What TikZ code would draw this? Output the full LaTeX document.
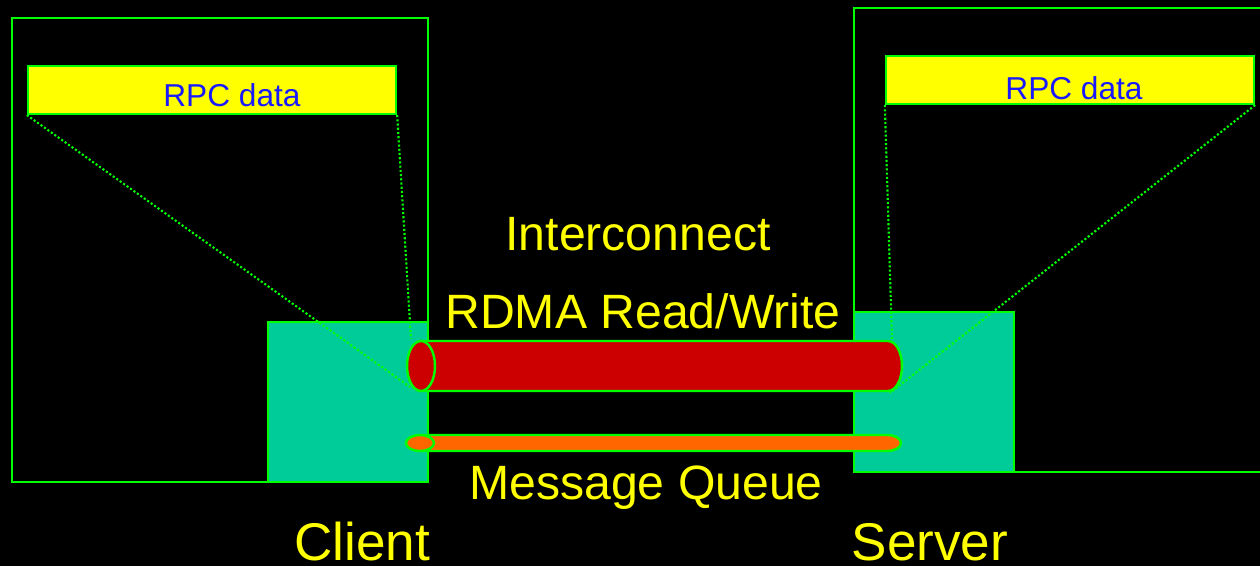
\documentclass[tikz,border=0pt]{standalone}
\usepackage{fontspec}
\setmainfont{Liberation Sans}
\usetikzlibrary{positioning}
\definecolor{wire}{HTML}{00FF00}
\definecolor{rpcyellow}{HTML}{FFFF00}
\definecolor{rpcblue}{HTML}{1A1AFF}
\definecolor{nicteal}{HTML}{00CC99}
\definecolor{rdmared}{HTML}{CC0000}
\definecolor{queueorange}{HTML}{FF6600}
\tikzset{
  % Specifications for style of nodes:
  base/.style = {
    rectangle,
    draw=wire,
    line width=0.6pt,
    inner sep=0pt
  },
  host/.style = {
    base,
    fill=black,
    minimum width=4.16cm,
    minimum height=4.64cm
  },
  buffer/.style = {
    base,
    fill=rpcyellow,
    minimum width=3.68cm,
    minimum height=0.48cm
  },
  nic/.style = {
    base,
    fill=nicteal,
    minimum width=1.6cm,
    minimum height=1.6cm
  },
  pipeline/.style = {
    draw=wire,
    line width=0.7pt
  },
  tag/.style = {
    text=rpcyellow,
    anchor=base,
    inner sep=0pt,
    font=\fontsize{13.7pt}{16pt}\selectfont
  },
  dots/.style = {
    draw=wire,
    line width=0.6pt,
    dash pattern=on 0.6pt off 0.6pt
  },
}

\begin{document}
\begin{tikzpicture}[x=0.01cm, y=-0.01cm]
    \fill[black] (0,0) rectangle (1260,566);
    \clip (0,0) rectangle (1260,566);
    % Hosts and their memory buffers
    \node[host]   (client)  at (220,250)                                {};
    \node[host]   (server)  at (1062,240)                               {};
    \node[buffer] (bufL)    at (212,90)                                 {};
    \node[buffer] (bufR)    at (1070,80)                                {};
    \node[nic, anchor=south east] (nicL) at (client.south east)         {};
    \node[nic, anchor=south west] (nicR) at (server.south west)         {};
    \node[text=rpcblue, anchor=base, font=\fontsize{9pt}{11pt}\selectfont] (rpcL) at (232,106) {RPC data};
    \node[text=rpcblue, anchor=base, font=\fontsize{9pt}{11pt}\selectfont] (rpcR) at (1074,99)  {RPC data};
    % Ends of the RDMA pipe
    \coordinate (pipeLT) at (411,339);
    \coordinate (pipeLB) at (410,387);
    \coordinate (pipeRT) at (892,339);
    \coordinate (pipeRB) at (890,393);
    \draw[dots] (bufL.south west) -- (pipeLB);
    \draw[dots] (bufL.south east) -- (pipeLT);
    \draw[dots] (bufR.south west) -- (pipeRT);
    \draw[dots] (bufR.south east) -- (pipeRB);
    % RDMA pipe: body with rounded far end, open near end
    \filldraw[pipeline, fill=rdmared] (421,341) -- (888,341)
      arc[start angle=-90, end angle=90, x radius=14, y radius=25] -- (421,391) -- cycle;
    \filldraw[pipeline, fill=rdmared] (421,366) ellipse [x radius=14, y radius=25];
    % Message queue
    \filldraw[pipeline, fill=queueorange] (420,435) -- (887,435)
      arc[start angle=-90, end angle=90, x radius=14, y radius=8] -- (420,451) -- cycle;
    \filldraw[pipeline, fill=queueorange] (420,443) ellipse [x radius=14, y radius=8];
    \node[tag] (intlabel)  at (638,250) {Interconnect};
    \node[tag] (rdmalabel) at (643,328) {RDMA Read/Write};
    \node[tag] (mqlabel)   at (646,499) {Message Queue};
    \node[tag, font=\fontsize{15.1pt}{18pt}\selectfont] (clientlabel) at (362,560) {Client};
    \node[tag, font=\fontsize{15.1pt}{18pt}\selectfont] (serverlabel) at (930,560) {Server};
  \end{tikzpicture}
\end{document}
